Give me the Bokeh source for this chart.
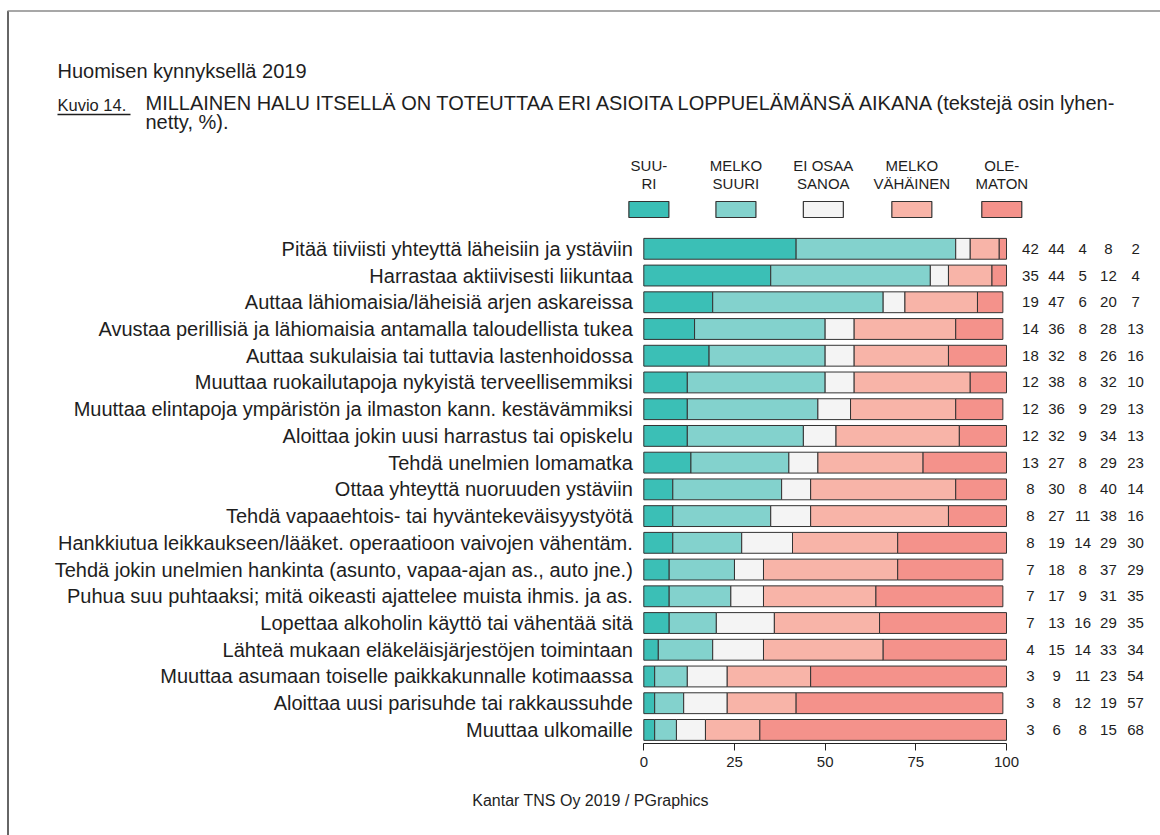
from bokeh.plotting import figure
from bokeh.models import (ColumnDataSource, Range1d, FixedTicker, Label, Arrow)
from bokeh.core.properties import value
from bokeh.embed import file_html
from bokeh.resources import INLINE

# ---------------- data ----------------
categories = [
    "Pitää tiiviisti yhteyttä läheisiin ja ystäviin",
    "Harrastaa aktiivisesti liikuntaa",
    "Auttaa lähiomaisia/läheisiä arjen askareissa",
    "Avustaa perillisiä ja lähiomaisia antamalla taloudellista tukea",
    "Auttaa sukulaisia tai tuttavia lastenhoidossa",
    "Muuttaa ruokailutapoja nykyistä terveellisemmiksi",
    "Muuttaa elintapoja ympäristön ja ilmaston kann. kestävämmiksi",
    "Aloittaa jokin uusi harrastus tai opiskelu",
    "Tehdä unelmien lomamatka",
    "Ottaa yhteyttä nuoruuden ystäviin",
    "Tehdä vapaaehtois- tai hyväntekeväisyystyötä",
    "Hankkiutua leikkaukseen/lääket. operaatioon vaivojen vähentäm.",
    "Tehdä jokin unelmien hankinta (asunto, vapaa-ajan as., auto jne.)",
    "Puhua suu puhtaaksi; mitä oikeasti ajattelee muista ihmis. ja as.",
    "Lopettaa alkoholin käyttö tai vähentää sitä",
    "Lähteä mukaan eläkeläisjärjestöjen toimintaan",
    "Muuttaa asumaan toiselle paikkakunnalle kotimaassa",
    "Aloittaa uusi parisuhde tai rakkaussuhde",
    "Muuttaa ulkomaille",
]
suuri =          [42, 35, 19, 14, 18, 12, 12, 12, 13, 8, 8, 8, 7, 7, 7, 4, 3, 3, 3]
melko_suuri =    [44, 44, 47, 36, 32, 38, 36, 32, 27, 30, 27, 19, 18, 17, 13, 15, 9, 8, 6]
ei_osaa_sanoa =  [4, 5, 6, 8, 8, 8, 9, 9, 8, 8, 11, 14, 8, 9, 16, 14, 11, 12, 8]
melko_vahainen = [8, 12, 20, 28, 26, 32, 29, 34, 29, 40, 38, 29, 37, 31, 29, 33, 23, 19, 15]
olematon =       [2, 4, 7, 13, 16, 10, 13, 13, 23, 14, 16, 30, 29, 35, 35, 34, 54, 57, 68]

series_keys = ["suuri", "melko_suuri", "ei_osaa", "melko_vah", "olematon"]
legend_line1 = ["SUU-", "MELKO", "EI OSAA", "MELKO", "OLE-"]
legend_line2 = ["RI", "SUURI", "SANOA", "VÄHÄINEN", "MATON"]
x_ticks = [0, 25, 50, 75, 100]

title_top = "Huomisen kynnyksellä 2019"
fig_no = "Kuvio 14."
title_l1 = "MILLAINEN HALU ITSELLÄ ON TOTEUTTAA ERI ASIOITA LOPPUELÄMÄNSÄ AIKANA (tekstejä osin lyhen-"
title_l2 = "netty, %)."
footer = "Kantar TNS Oy 2019 / PGraphics"

# ---------------- styles / layout ----------------
colors = ["#3bbfb6", "#83d2cd", "#f4f4f4", "#f8b4a8", "#f4928b"]
FONT = "Liberation Sans"
TXT = "#1e1e1e"
W, H = 1160, 835
X0_PX, PX_PER_UNIT = 643.3, 3.627       # x=0 position and scale
Y0_PX, PX_PER_ROW = 248.3, 26.73        # first row centre and row pitch
AXIS_PX = 743.3

num_x = [106.6, 113.8, 121.0, 128.1, 135.6]   # value columns (data x)
legend_x = [1.4, 25.4, 49.5, 73.9, 98.7]
legend_y1, legend_y2, legend_box_y = -3.12, -2.44, -1.47

ys = list(range(len(categories)))
src = ColumnDataSource(dict(
    y=ys, label=categories,
    suuri=suuri, melko_suuri=melko_suuri, ei_osaa=ei_osaa_sanoa,
    melko_vah=melko_vahainen, olematon=olematon,
    t0=[str(v) for v in suuri], t1=[str(v) for v in melko_suuri],
    t2=[str(v) for v in ei_osaa_sanoa], t3=[str(v) for v in melko_vahainen],
    t4=[str(v) for v in olematon],
))

x_range = Range1d(-X0_PX / PX_PER_UNIT, (W - X0_PX) / PX_PER_UNIT)
y_range = Range1d((H - Y0_PX) / PX_PER_ROW, -Y0_PX / PX_PER_ROW)

p = figure(frame_width=W, frame_height=H,
           min_border=0, min_border_left=0, min_border_right=0,
           min_border_top=0, min_border_bottom=0,
           x_range=x_range, y_range=y_range,
           x_axis_location="below", y_axis_location=None,
           output_backend="svg", toolbar_location=None, tools="")
p.outline_line_color = None
p.xgrid.grid_line_color = None
p.ygrid.grid_line_color = None
p.background_fill_color = "white"
p.border_fill_color = "white"

p.hbar_stack(series_keys, y="y", height=0.78, source=src,
             fill_color=colors, line_color="#333333", line_width=1)

# category labels
p.text(x=0, y="y", text="label", source=src, x_offset=-11,
       text_align="right", text_baseline="middle",
       text_font=value(FONT), text_font_size="20px", text_color=TXT)

# value columns on the right
for j in range(5):
    p.text(x=num_x[j], y="y", text=f"t{j}", source=src,
           text_align="center", text_baseline="middle",
           text_font=value(FONT), text_font_size="15px", text_color=TXT)

# legend
lsrc = ColumnDataSource(dict(x=legend_x, l1=legend_line1, l2=legend_line2, c=colors))
p.rect(x="x", y=legend_box_y, width=40, height=16, width_units="screen",
       height_units="screen", fill_color="c", line_color="#333333",
       line_width=1.2, source=lsrc)
for col, yy in (("l1", legend_y1), ("l2", legend_y2)):
    p.text(x="x", y=yy, text=col, source=lsrc, text_align="center",
           text_baseline="middle", text_font=value(FONT),
           text_font_size="15px", text_color=TXT)

# x axis, placed inside the frame at the bottom of the bars
xa = p.xaxis[0]
xa.fixed_location = (AXIS_PX - Y0_PX) / PX_PER_ROW
xa.ticker = FixedTicker(ticks=x_ticks)
xa.bounds = (0, 100)
xa.minor_tick_line_color = None
xa.major_tick_out = 7
xa.major_tick_in = 0
xa.axis_line_color = "#222222"
xa.major_tick_line_color = "#222222"
xa.major_label_text_font = FONT
xa.major_label_text_font_size = "15px"
xa.major_label_text_color = TXT
xa.major_label_standoff = 6

# titles and footer (screen units, y measured from bottom)
def sy(page_y):
    return H - page_y

p.add_layout(Label(x=57, y=sy(70), x_units="screen", y_units="screen", text=title_top,
                   text_font=FONT, text_font_size="20px", text_color=TXT,
                   text_baseline="middle"))
p.add_layout(Label(x=57, y=sy(104), x_units="screen", y_units="screen", text=fig_no,
                   text_font=FONT, text_font_size="16.5px", text_color=TXT,
                   text_baseline="middle"))
p.add_layout(Arrow(end=None, x_start=57, y_start=sy(114), x_end=130, y_end=sy(114),
                   start_units="screen", end_units="screen",
                   line_color=TXT, line_width=1.3))
p.add_layout(Label(x=145, y=sy(102), x_units="screen", y_units="screen", text=title_l1,
                   text_font=FONT, text_font_size="20px", text_color=TXT,
                   text_baseline="middle"))
p.add_layout(Label(x=145, y=sy(121), x_units="screen", y_units="screen", text=title_l2,
                   text_font=FONT, text_font_size="20px", text_color=TXT,
                   text_baseline="middle"))
p.add_layout(Label(x=590, y=sy(800), x_units="screen", y_units="screen", text=footer,
                   text_font=FONT, text_font_size="16px", text_color=TXT,
                   text_baseline="middle", text_align="center"))
# page frame lines
p.add_layout(Arrow(end=None, x_start=7.5, y_start=0, x_end=7.5, y_end=sy(10.5),
                   start_units="screen", end_units="screen",
                   line_color="#333333", line_width=1.5))
p.add_layout(Arrow(end=None, x_start=7, y_start=sy(10.5), x_end=W, y_end=sy(10.5),
                   start_units="screen", end_units="screen",
                   line_color="#8a8a8a", line_width=1.5))

open("out.html", "w").write(file_html(p, INLINE))
